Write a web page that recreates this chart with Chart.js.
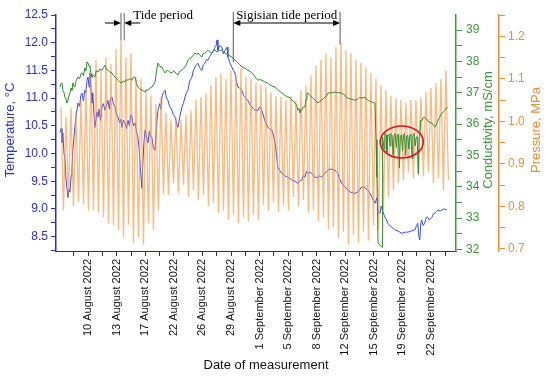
<!DOCTYPE html>
<html>
<head>
<meta charset="utf-8">
<script src="https://cdn.jsdelivr.net/npm/chart.js@4"></script>
<style>
  html, body { margin: 0; padding: 0; background: #fff; }
  #wrap { width: 550px; height: 377px; }
</style>
</head>
<body>
<div id="wrap"><canvas id="myChart"></canvas></div>
<script>
// x axis: one unit per labelled tick, tick 0 = 10 August 2022
const dateLabels = [
  '10 August 2022', '13 August 2022', '17 August 2022', '22 August 2022',
  '26 August 2022', '29 August 2022', '1 September 2022', '5 September 2022',
  '8 September 2022', '12 September 2022', '15 September 2022',
  '19 September 2022', '22 September 2022'
];

// temperature, °C  [x, value]
const temperature = [
  [-0.99,10.38],[-0.95,10.45],[-0.92,10.2],[-0.89,10.37],[-0.85,10.0],[-0.82,9.93],[-0.78,9.55],[-0.75,9.39],
  [-0.73,9.3],[-0.71,9.21],[-0.68,9.35],[-0.64,9.3],[-0.6,9.6],[-0.57,9.75],[-0.54,10.06],[-0.5,10.3],
  [-0.47,10.47],[-0.42,10.7],[-0.36,10.91],[-0.3,10.85],[-0.26,11.05],[-0.22,11.09],[-0.17,10.95],[-0.12,11.14],
  [-0.08,11.1],[-0.05,11.3],[-0.01,11.38],[0.03,11.2],[0.06,11.45],[0.1,11.1],[0.13,10.91],[0.16,11.09],
  [0.2,10.7],[0.23,10.47],[0.27,10.6],[0.3,10.75],[0.34,10.66],[0.38,10.8],[0.43,10.6],[0.48,10.84],
  [0.53,10.9],[0.58,10.78],[0.63,10.85],[0.69,10.96],[0.74,10.8],[0.78,11.0],[0.83,11.02],[0.88,10.9],
  [0.94,10.84],[0.99,10.7],[1.04,10.66],[1.1,10.55],[1.14,10.62],[1.18,10.47],[1.23,10.6],[1.29,10.55],
  [1.34,10.45],[1.39,10.6],[1.44,10.5],[1.49,10.7],[1.53,10.66],[1.58,10.5],[1.64,10.55],[1.69,10.4],
  [1.74,10.29],[1.78,10.1],[1.83,9.7],[1.88,9.37],[1.91,9.8],[1.95,10.2],[1.99,10.42],[2.04,10.3],
  [2.09,10.19],[2.14,10.4],[2.18,10.3],[2.23,10.29],[2.28,10.1],[2.34,10.06],[2.39,10.5],[2.44,10.78],
  [2.5,10.9],[2.54,10.8],[2.58,11.02],[2.63,11.1],[2.69,11.14],[2.74,11.0],[2.79,10.96],[2.85,10.85],
  [2.93,10.78],[2.98,10.7],[3.04,10.66],[3.09,10.55],[3.14,10.47],[3.2,10.65],[3.28,10.84],[3.33,10.9],
  [3.39,11.02],[3.44,11.1],[3.49,11.14],[3.55,11.3],[3.63,11.38],[3.68,11.5],[3.74,11.56],[3.79,11.6],
  [3.84,11.63],[3.9,11.55],[3.98,11.5],[4.03,11.6],[4.09,11.63],[4.14,11.7],[4.19,11.68],[4.25,11.75],
  [4.33,11.81],[4.38,11.85],[4.44,11.92],[4.48,11.95],[4.51,12.05],[4.54,11.86],[4.6,11.95],[4.68,11.92],
  [4.73,11.8],[4.79,11.86],[4.86,11.92],[4.89,11.74],[4.95,11.65],[5.03,11.56],[5.08,11.5],[5.14,11.45],
  [5.19,11.3],[5.24,11.2],[5.3,11.18],[5.38,11.14],[5.44,11.05],[5.49,11.02],[5.54,10.98],[5.59,10.96],
  [5.66,10.88],[5.73,10.84],[5.8,10.8],[5.84,10.78],[5.94,10.78],[6.0,10.84],[6.08,10.78],[6.18,10.6],
  [6.29,10.47],[6.35,10.45],[6.43,10.42],[6.5,10.3],[6.54,10.19],[6.6,9.95],[6.64,9.75],[6.7,9.7],
  [6.78,9.64],[6.88,9.6],[6.99,9.57],[7.06,9.55],[7.13,9.52],[7.24,9.5],[7.34,9.46],[7.41,9.5],
  [7.48,9.52],[7.53,9.6],[7.59,9.57],[7.64,9.68],[7.69,9.64],[7.76,9.66],[7.83,9.64],[7.9,9.6],
  [7.94,9.57],[8.04,9.57],[8.11,9.6],[8.18,9.57],[8.24,9.62],[8.29,9.64],[8.39,9.7],[8.5,9.72],
  [8.64,9.7],[8.7,9.66],[8.74,9.64],[8.8,9.55],[8.88,9.46],[8.98,9.4],[9.09,9.34],[9.2,9.3],
  [9.34,9.28],[9.44,9.3],[9.58,9.4],[9.69,9.38],[9.79,9.34],[9.9,9.25],[9.94,9.21],[10.04,9.1],
  [10.11,9.2],[10.15,8.95],[10.22,8.92],[10.26,9.05],[10.32,8.95],[10.39,8.85],[10.45,8.8],[10.49,8.74],
  [10.6,8.68],[10.74,8.62],[10.85,8.6],[10.98,8.56],[11.1,8.58],[11.2,8.58],[11.3,8.6],[11.44,8.62],
  [11.5,8.7],[11.54,8.74],[11.58,8.5],[11.61,8.44],[11.65,8.75],[11.68,8.8],[11.73,8.7],[11.78,8.74],
  [11.84,8.85],[11.89,8.85],[11.95,8.8],[12.04,8.85],[12.1,8.92],[12.14,8.92],[12.2,8.95],[12.25,8.98],
  [12.33,8.96],[12.39,8.98],[12.47,9.0],[12.56,8.98]
];

// conductivity, mS/cm  [x, value]
const conductivity = [
  [-0.99,37.18],[-0.95,37.3],[-0.92,37.31],[-0.89,37.08],[-0.85,37.0],[-0.82,36.86],[-0.78,36.8],[-0.75,36.67],
  [-0.71,36.76],[-0.68,36.9],[-0.64,36.99],[-0.6,37.15],[-0.57,37.08],[-0.54,37.31],[-0.5,37.2],[-0.47,37.18],
  [-0.42,37.4],[-0.36,37.5],[-0.3,37.45],[-0.26,37.6],[-0.22,37.63],[-0.17,37.55],[-0.12,37.79],[-0.08,37.7],
  [-0.05,37.98],[-0.01,37.95],[0.03,37.85],[0.06,37.82],[0.1,37.6],[0.13,37.5],[0.18,37.55],[0.23,37.5],
  [0.28,37.7],[0.34,37.66],[0.4,37.75],[0.48,37.72],[0.53,37.8],[0.58,37.88],[0.63,37.75],[0.69,37.72],
  [0.75,37.66],[0.83,37.63],[0.88,37.55],[0.94,37.5],[0.99,37.45],[1.04,37.4],[1.1,37.35],[1.18,37.31],
  [1.23,37.38],[1.29,37.34],[1.34,37.42],[1.39,37.4],[1.46,37.45],[1.53,37.4],[1.58,37.5],[1.64,37.5],
  [1.69,37.3],[1.74,37.18],[1.8,37.12],[1.88,37.08],[1.94,37.05],[1.99,37.02],[2.04,37.1],[2.09,37.08],
  [2.16,37.15],[2.23,37.18],[2.28,37.25],[2.34,37.34],[2.39,37.7],[2.44,37.95],[2.5,37.85],[2.58,37.82],
  [2.63,37.72],[2.69,37.63],[2.74,37.7],[2.79,37.72],[2.86,37.65],[2.93,37.63],[2.98,37.7],[3.04,37.66],
  [3.09,37.6],[3.14,37.56],[3.2,37.68],[3.28,37.72],[3.33,37.78],[3.39,37.82],[3.44,37.9],[3.49,38.04],
  [3.56,38.1],[3.63,38.14],[3.68,38.2],[3.74,38.27],[3.79,38.22],[3.84,38.27],[3.9,38.2],[3.98,38.14],
  [4.03,38.25],[4.09,38.27],[4.14,38.32],[4.19,38.36],[4.26,38.3],[4.33,38.27],[4.38,38.34],[4.44,38.36],
  [4.51,38.3],[4.54,38.3],[4.6,38.35],[4.68,38.36],[4.73,38.3],[4.79,38.27],[4.86,38.22],[4.89,38.2],
  [4.95,38.18],[5.03,38.14],[5.08,38.08],[5.14,38.04],[5.19,38.0],[5.24,37.95],[5.3,37.9],[5.38,37.82],
  [5.44,37.8],[5.49,37.79],[5.54,37.75],[5.59,37.72],[5.66,37.68],[5.73,37.63],[5.8,37.58],[5.84,37.5],
  [5.94,37.4],[6.0,37.42],[6.08,37.4],[6.18,37.35],[6.29,37.31],[6.36,37.25],[6.43,37.22],[6.54,37.18],
  [6.64,37.08],[6.7,37.05],[6.78,36.99],[6.88,36.92],[6.99,36.86],[7.06,36.85],[7.13,36.76],[7.2,36.72],
  [7.24,36.67],[7.3,36.6],[7.34,36.44],[7.38,36.5],[7.41,36.35],[7.44,36.45],[7.48,36.44],[7.53,36.55],
  [7.59,36.54],[7.63,36.8],[7.66,36.99],[7.69,36.99],[7.75,36.92],[7.83,36.86],[7.9,36.8],[7.94,36.76],
  [8.0,36.72],[8.04,36.67],[8.11,36.72],[8.18,36.76],[8.24,36.82],[8.29,36.86],[8.35,36.9],[8.39,36.99],
  [8.5,37.0],[8.64,37.02],[8.74,37.0],[8.88,36.99],[8.98,36.92],[9.09,36.83],[9.2,36.8],[9.34,36.76],
  [9.44,36.8],[9.5,36.85],[9.58,36.83],[9.69,36.86],[9.79,36.76],[9.88,36.72],[9.94,36.7],[10.04,36.67],
  [10.08,35.5],[10.11,34.3],[10.15,32.2],[10.22,32.13],[10.29,32.07],[10.3,33.66],[10.32,35.58],[10.36,35.2],
  [10.39,35.71],[10.43,35.65],[10.46,35.1],[10.49,35.6],[10.53,35.68],[10.57,35.3],[10.6,35.7],[10.64,35.62],
  [10.68,35.0],[10.71,35.65],[10.75,35.7],[10.79,35.25],[10.82,35.62],[10.86,35.68],[10.9,34.6],[10.93,35.6],
  [10.97,35.66],[11.01,35.15],[11.04,35.62],[11.08,35.7],[11.12,35.0],[11.15,35.6],[11.19,35.65],[11.23,35.2],
  [11.26,35.6],[11.3,35.68],[11.34,34.9],[11.37,35.62],[11.41,35.7],[11.45,35.3],[11.48,35.55],[11.52,35.6],
  [11.56,34.4],[11.59,35.58],[11.61,35.6],[11.64,36.12],[11.68,36.1],[11.73,36.2],[11.78,36.22],[11.84,36.15],
  [11.89,36.12],[11.95,36.05],[12.04,36.03],[12.1,35.95],[12.14,35.9],[12.2,36.0],[12.25,36.12],[12.3,36.2],
  [12.35,36.3],[12.39,36.35],[12.45,36.4],[12.49,36.44],[12.53,36.5],[12.56,36.54]
];

// pressure, MPa: successive high and low waters, evenly spaced in time
const tideStart = -0.956;
const tideStep = 0.1751;
const highWater = [
  1.033,1.01,1.033,1.02,1.05,1.08,1.113,1.144,1.12,1.15,1.135,1.17,1.19,1.15,1.16,1.104,1.1,1.073,1.06,1.04,
  1.057,1.02,1.003,1.01,1.003,1.015,1.026,1.05,1.057,1.066,1.085,1.104,1.113,1.1,1.12,1.108,1.125,1.105,1.1,1.09,
  1.085,1.08,1.068,1.06,1.057,1.05,1.06,1.05,1.073,1.085,1.108,1.132,1.144,1.16,1.15,1.175,1.184,1.167,1.16,1.144,
  1.137,1.127,1.115,1.1,1.085,1.073,1.06,1.054,1.05,1.043,1.05,1.05,1.057,1.068,1.078,1.09,1.1,1.12
];
const lowWater = [
  0.79,0.82,0.80,0.81,0.805,0.79,0.79,0.785,0.775,0.76,0.756,0.745,0.727,0.756,0.714,0.727,0.71,0.76,0.745,0.79,
  0.83,0.827,0.855,0.83,0.85,0.822,0.838,0.815,0.827,0.80,0.808,0.785,0.79,0.768,0.78,0.76,0.775,0.765,0.78,0.768,
  0.803,0.79,0.808,0.787,0.803,0.79,0.822,0.80,0.815,0.785,0.79,0.765,0.773,0.745,0.75,0.726,0.74,0.71,0.733,0.714,
  0.74,0.72,0.756,0.745,0.79,0.822,0.838,0.855,0.862,0.88,0.866,0.885,0.87,0.88,0.855,0.866,0.838,0.862
];

// annotation anchors (axis units)
const tidePeriod = [1.145, 1.26];
const sigisianPeriod = [5.08, 8.82];
const sigisianTops = [1.139, 1.181];   // pressure where the marker lines stop
const ellipseAt = [10.98, 35.43];      // x, conductivity

const BLUE = '#2d2dd2';
const GREEN = '#3a993a';
const ORANGE = '#f28c33';

const pressure = [];
highWater.forEach(function (h, i) {
  pressure.push({ x: tideStart + i * tideStep, y: h });
  pressure.push({ x: tideStart + (i + 0.5) * tideStep, y: lowWater[i] });
});

function near(v, step) {
  return Math.abs(v / step - Math.round(v / step)) < 1e-6;
}

function arrowHead(ctx, px, py, dir) {
  ctx.beginPath();
  ctx.moveTo(px, py);
  ctx.lineTo(px - dir * 7, py - 3);
  ctx.lineTo(px - dir * 7, py + 3);
  ctx.closePath();
  ctx.fill();
}

const overlay = {
  id: 'overlay',
  afterDatasetsDraw(chart) {
    const ctx = chart.ctx;
    const a = chart.chartArea;
    const x = chart.scales.x, yC = chart.scales.yC, yP = chart.scales.yP;
    ctx.save();

    // red ellipse
    ctx.strokeStyle = '#e0141e';
    ctx.lineWidth = 1.6;
    ctx.beginPath();
    ctx.ellipse(x.getPixelForValue(ellipseAt[0]), yC.getPixelForValue(ellipseAt[1]), 21.5, 16, 0, 0, Math.PI * 2);
    ctx.stroke();

    const ay = a.top + 8;
    ctx.fillStyle = '#000';

    // tide period
    const t1 = x.getPixelForValue(tidePeriod[0]);
    const t2 = x.getPixelForValue(tidePeriod[1]);
    const tb = yP.getPixelForValue(1.19);
    ctx.strokeStyle = '#666';
    ctx.lineWidth = 1;
    ctx.beginPath();
    ctx.moveTo(t1, a.top - 2); ctx.lineTo(t1, tb);
    ctx.moveTo(t2, a.top - 2); ctx.lineTo(t2, tb);
    ctx.stroke();
    ctx.strokeStyle = '#000';
    ctx.beginPath();
    ctx.moveTo(t1 - 16, ay); ctx.lineTo(t1 - 2, ay);
    ctx.moveTo(t2 + 16, ay); ctx.lineTo(t2 + 2, ay);
    ctx.stroke();
    arrowHead(ctx, t1, ay, 1);
    arrowHead(ctx, t2, ay, -1);

    // sigisian tide period
    const s1 = x.getPixelForValue(sigisianPeriod[0]);
    const s2 = x.getPixelForValue(sigisianPeriod[1]);
    ctx.strokeStyle = '#555';
    ctx.beginPath();
    ctx.moveTo(s1, a.top - 3); ctx.lineTo(s1, yP.getPixelForValue(sigisianTops[0]));
    ctx.moveTo(s2, a.top - 3); ctx.lineTo(s2, yP.getPixelForValue(sigisianTops[1]));
    ctx.stroke();
    ctx.strokeStyle = '#000';
    ctx.beginPath();
    ctx.moveTo(s1 + 2, ay); ctx.lineTo(s2 - 2, ay);
    ctx.stroke();
    arrowHead(ctx, s1, ay, -1);
    arrowHead(ctx, s2, ay, 1);

    ctx.font = '13px "Liberation Serif", "Times New Roman", serif';
    ctx.textBaseline = 'alphabetic';
    ctx.textAlign = 'left';
    ctx.fillText('Tide period', t2 + 9, a.top + 4);
    ctx.textAlign = 'center';
    ctx.fillText('Sigisian tide period', (s1 + s2) / 2, a.top + 4);
    ctx.restore();
  },
  afterDraw(chart) {
    // axis titles, all reading bottom to top
    const ctx = chart.ctx;
    const a = chart.chartArea;
    const s = chart.scales;
    const midY = (a.top + a.bottom) / 2 - 3;
    ctx.save();
    ctx.font = '13px Arial, "Liberation Sans", sans-serif';
    ctx.textAlign = 'center';
    ctx.textBaseline = 'middle';
    [[s.y.left + 10, 'Temperature, \u00B0C', BLUE],
     [s.yC.left + 32, 'Conductivity, mS/cm', GREEN],
     [s.yP.left + 37, 'Pressure, MPa', ORANGE]].forEach(function (t) {
      ctx.save();
      ctx.translate(t[0], midY);
      ctx.rotate(-Math.PI / 2);
      ctx.fillStyle = t[2];
      ctx.fillText(t[1], 0, 0);
      ctx.restore();
    });
    ctx.fillStyle = '#111';
    ctx.fillText('Date of measurement', (a.left + a.right) / 2 + 10, 365);
    ctx.restore();
  }
};

Chart.defaults.font.family = 'Arial, "Liberation Sans", sans-serif';

const config = {
  type: 'line',
  data: {
    datasets: [
      {
        label: 'Conductivity',
        data: conductivity.map(p => ({ x: p[0], y: p[1] })),
        yAxisID: 'yC',
        borderColor: 'rgb(45,140,45)',
        borderWidth: 1,
        pointRadius: 0,
        order: 1
      },
      {
        label: 'Pressure',
        data: pressure,
        yAxisID: 'yP',
        borderColor: 'rgba(255,145,55,0.65)',
        borderWidth: 1.3,
        pointRadius: 0,
        order: 2
      },
      {
        label: 'Temperature',
        data: temperature.map(p => ({ x: p[0], y: p[1] })),
        yAxisID: 'y',
        borderColor: 'rgb(55,75,235)',
        borderWidth: 1,
        pointRadius: 0,
        order: 3
      }
    ]
  },
  options: {
    responsive: true,
    maintainAspectRatio: false,
    animation: false,
    layout: { padding: { top: 15, left: 0, right: 0, bottom: 0 } },
    plugins: { legend: { display: false }, tooltip: { enabled: false } },
    scales: {
      x: {
        type: 'linear',
        position: 'bottom',
        min: -1.13,
        max: 12.88,
        afterFit: s => { s.height = 126; },
        border: { color: '#333', width: 1 },
        grid: { drawOnChartArea: false, tickLength: 5, tickColor: '#333' },
        ticks: {
          stepSize: 0.5,
          includeBounds: false,
          autoSkip: false,
          minRotation: 90,
          maxRotation: 90,
          padding: 3,
          color: '#111',
          font: { size: 11 },
          callback: v => near(v, 1) ? dateLabels[Math.round(v)] : ''
        }
      },
      y: {
        position: 'left',
        min: 8.24,
        max: 12.5,
        afterFit: s => { s.width = 56; },
        border: { color: BLUE, width: 1.5 },
        grid: { drawOnChartArea: false, tickLength: 5, tickColor: BLUE },
        ticks: {
          stepSize: 0.25,
          includeBounds: false,
          autoSkip: false,
          padding: 3,
          color: BLUE,
          font: { size: 12 },
          callback: v => near(v, 0.5) ? v.toFixed(1) : ''
        }
      },
      yC: {
        position: 'right',
        weight: 0,
        min: 31.95,
        max: 39.48,
        afterFit: s => { s.width = 43; },
        border: { color: GREEN, width: 1.5 },
        grid: { drawOnChartArea: false, tickLength: 6, tickColor: GREEN },
        ticks: {
          stepSize: 0.5,
          includeBounds: false,
          autoSkip: false,
          padding: 4,
          color: GREEN,
          font: { size: 12 },
          callback: v => near(v, 1) ? String(Math.round(v)) : ''
        }
      },
      yP: {
        position: 'right',
        weight: 1,
        min: 0.695,
        max: 1.25,
        afterFit: s => { s.width = 51; },
        border: { color: ORANGE, width: 1.5 },
        grid: { drawOnChartArea: false, tickLength: 6, tickColor: ORANGE },
        ticks: {
          stepSize: 0.05,
          includeBounds: false,
          autoSkip: false,
          padding: 3,
          color: ORANGE,
          font: { size: 12 },
          callback: v => near(v, 0.1) ? v.toFixed(1) : ''
        }
      }
    }
  },
  plugins: [overlay]
};

const myChart = new Chart(document.getElementById('myChart'), config);
</script>
</body>
</html>
